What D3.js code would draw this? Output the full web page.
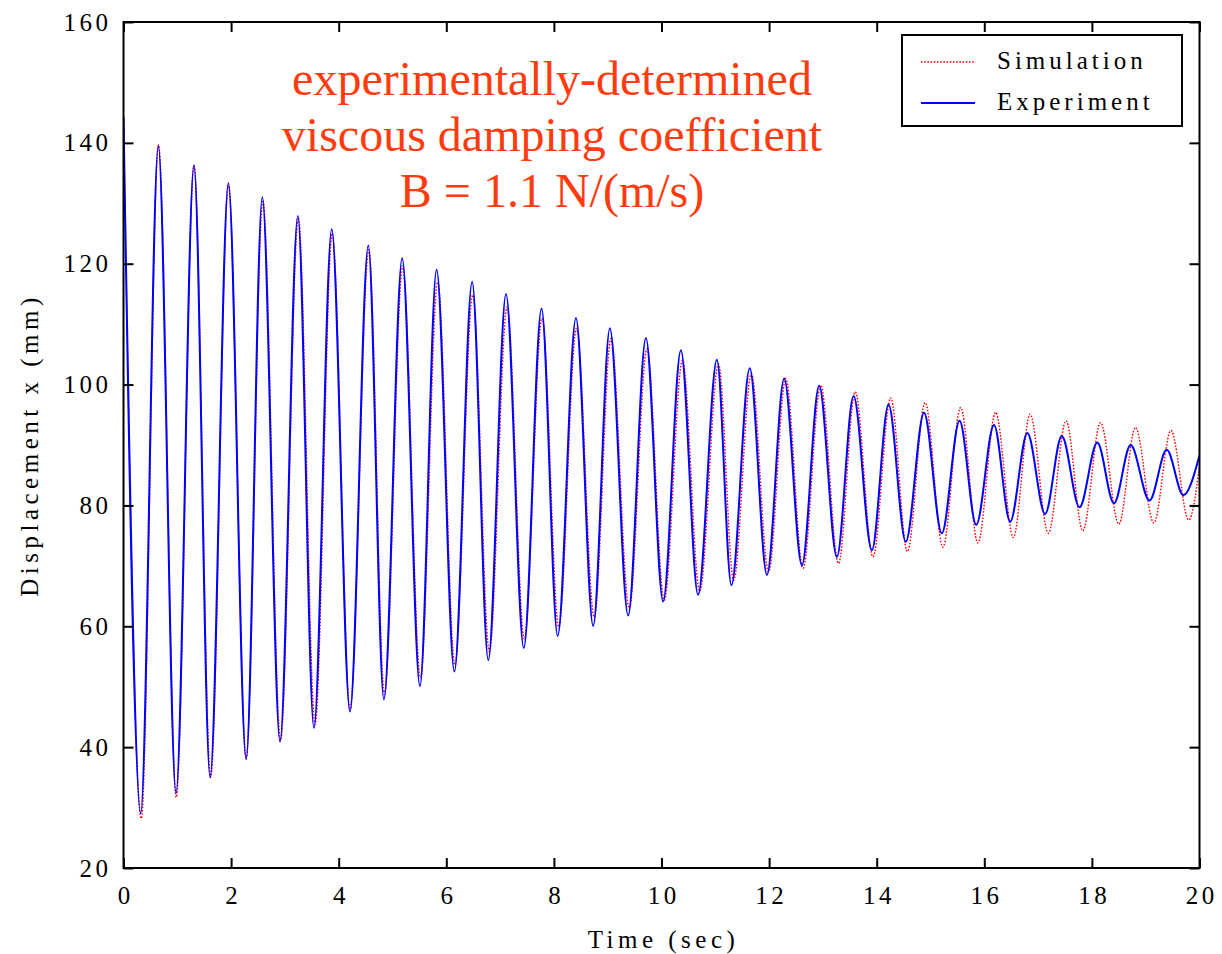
<!DOCTYPE html>
<html>
<head>
<meta charset="utf-8">
<script src="https://cdn.jsdelivr.net/npm/d3@7"></script>
<style>
    body { margin: 0; background: #fff; }
    svg text { font-family: "Liberation Serif", "Times New Roman", serif; }
</style>
</head>
<body>
<div id="chart"></div>
<script>
// extrema: time (sec) and displacement (mm)
const expTime = [0, 0.32, 0.647, 0.976, 1.31, 1.61, 1.95, 2.28, 2.58, 2.91, 3.24, 3.54, 3.87, 4.21, 4.55, 4.84,
    5.18, 5.51, 5.82, 6.15, 6.48, 6.78, 7.11, 7.44, 7.77, 8.07, 8.41, 8.73, 9.04, 9.38, 9.71,
    10.03, 10.36, 10.68, 11.03, 11.30, 11.64, 11.96, 12.28, 12.61, 12.93, 13.26, 13.57, 13.91, 14.22, 14.54, 14.88,
    15.21, 15.54, 15.85, 16.18, 16.48, 16.80, 17.13, 17.44, 17.77, 18.10, 18.41, 18.72, 19.07, 19.39, 19.70, 20];
const expDisp = [144.2, 29.05, 139.5, 32.4, 136.3, 35.0, 133.3, 38.0, 131.0, 40.9, 127.9, 43.2, 125.7, 45.9, 123.0, 47.9,
    120.9, 50.1, 119.0, 52.5, 117.0, 54.4, 115.0, 56.4, 112.6, 58.4, 111.0, 60.05, 109.3, 61.8, 107.7,
    64.1, 105.7, 65.2, 104.1, 66.8, 102.7, 68.5, 101.0, 70.1, 99.8, 71.5, 98.1, 72.6, 96.7, 74.0, 95.35,
    75.4, 94.0, 76.8, 93.3, 77.3, 92.0, 78.6, 91.5, 79.7, 90.4, 80.35, 90.0, 80.8, 89.2, 81.7, 88.3];

const simTime = [0, 0.33, 0.65, 0.98, 1.31, 1.62, 1.95, 2.28, 2.59, 2.92, 3.25, 3.56, 3.88, 4.21, 4.56, 4.85,
    5.19, 5.52, 5.84, 6.16, 6.49, 6.80, 7.13, 7.45, 7.78, 8.09, 8.42, 8.75, 9.06, 9.40, 9.73,
    10.05, 10.39, 10.71, 11.06, 11.34, 11.67, 11.99, 12.31, 12.63, 12.96, 13.29, 13.60, 13.93, 14.26, 14.57, 14.90,
    15.23, 15.56, 15.88, 16.21, 16.54, 16.85, 17.19, 17.52, 17.83, 18.16, 18.50, 18.81, 19.15, 19.47, 19.80, 20];
const simDisp = [144.5, 28.2, 139.7, 31.7, 136.2, 35.0, 133.0, 38.3, 130.5, 41.2, 127.6, 43.8, 125.0, 46.3, 122.3, 48.8,
    119.6, 51.5, 117.0, 53.6, 114.8, 55.8, 112.9, 57.9, 111.0, 59.9, 109.3, 61.5, 107.6, 63.0, 105.9,
    64.3, 104.0, 65.8, 103.4, 67.6, 101.8, 69.0, 101.0, 69.6, 99.9, 70.4, 98.8, 71.5, 97.8, 72.4, 97.0,
    73.1, 96.2, 73.8, 95.4, 74.7, 95.1, 75.4, 94.0, 75.8, 93.7, 76.9, 92.9, 77.1, 92.4, 77.6, 86.5];

const xTicks = [0, 2, 4, 6, 8, 10, 12, 14, 16, 18, 20];
const yTicks = [20, 40, 60, 80, 100, 120, 140, 160];
const titleLines = ["experimentally-determined", "viscous damping coefficient", "B = 1.1 N/(m/s)"];
const legendNames = ["Simulation", "Experiment"];

const width = 1222, height = 954;
const margin = {top: 22, right: 22.5, bottom: 86, left: 123.5};

const svg = d3.select("#chart").append("svg")
    .attr("width", width)
    .attr("height", height);

const x = d3.scaleLinear().domain([0, 20]).range([margin.left, width - margin.right]);
const y = d3.scaleLinear().domain([20, 160]).range([height - margin.bottom, margin.top]);

svg.append("clipPath").attr("id", "plotClip")
    .append("rect")
    .attr("x", x(0)).attr("y", y(160))
    .attr("width", x(20) - x(0)).attr("height", y(20) - y(160));

// series
const line = d3.line()
    .x(d => x(d[0]))
    .y(d => y(d[1]))
    .curve(d3.curveMonotoneX);

const plot = svg.append("g").attr("clip-path", "url(#plotClip)");
plot.append("path")
    .datum(simTime.map((t, i) => [t, simDisp[i]]))
    .attr("fill", "none")
    .attr("stroke", "#ff0000")
    .attr("stroke-width", 1.4)
    .attr("stroke-dasharray", "1.6,1.6")
    .attr("d", line);
plot.append("path")
    .datum(expTime.map((t, i) => [t, expDisp[i]]))
    .attr("fill", "none")
    .attr("stroke", "#0000ff")
    .attr("stroke-width", 2)
    .attr("stroke-linejoin", "round")
    .attr("d", line);

// axes, ticks pointing inward on all four sides
const tickStyle = g => {
    g.select(".domain").remove();
    g.selectAll(".tick line").attr("stroke", "#000").attr("stroke-width", 2);
    g.selectAll("text")
        .attr("fill", "#000")
        .style("font-size", "25px")
        .style("letter-spacing", "3.5px");
};

svg.append("g")
    .attr("transform", `translate(0,${y(20)})`)
    .call(d3.axisBottom(x).tickValues(xTicks).tickSize(-10).tickPadding(18).tickFormat(d3.format("d")))
    .call(tickStyle)
    .call(g => g.selectAll("text").attr("dx", "1.75px"));
svg.append("g")
    .attr("transform", `translate(0,${y(160)})`)
    .call(d3.axisTop(x).tickValues(xTicks).tickSize(-10).tickFormat(""))
    .call(tickStyle);
svg.append("g")
    .attr("transform", `translate(${x(0)},0)`)
    .call(d3.axisLeft(y).tickValues(yTicks).tickSize(-10).tickPadding(12).tickFormat(d3.format("d")))
    .call(tickStyle);
svg.append("g")
    .attr("transform", `translate(${x(20)},0)`)
    .call(d3.axisRight(y).tickValues(yTicks).tickSize(-10).tickFormat(""))
    .call(tickStyle);

// frame
svg.append("rect")
    .attr("x", x(0)).attr("y", y(160))
    .attr("width", x(20) - x(0)).attr("height", y(20) - y(160))
    .attr("fill", "none")
    .attr("stroke", "#000")
    .attr("stroke-width", 2);

// axis titles
svg.append("text")
    .attr("x", (x(0) + x(20)) / 2 + 2)
    .attr("y", 948)
    .attr("text-anchor", "middle")
    .style("font-size", "25px")
    .style("letter-spacing", "4.5px")
    .text("Time (sec)");
svg.append("text")
    .attr("transform", `translate(38,${(y(20) + y(160)) / 2}) rotate(-90)`)
    .attr("text-anchor", "middle")
    .style("font-size", "25px")
    .style("letter-spacing", "4.5px")
    .text("Displacement x (mm)");

// annotation
svg.append("g").selectAll("text")
    .data(titleLines)
    .enter()
    .append("text")
    .attr("x", 552)
    .attr("y", (d, i) => 95 + i * 56)
    .attr("text-anchor", "middle")
    .attr("fill", "#ff3c0f")
    .style("font-size", "48px")
    .text(d => d);

// legend
const legend = svg.append("g");
legend.append("rect")
    .attr("x", 902).attr("y", 35)
    .attr("width", 280).attr("height", 91)
    .attr("fill", "#fff")
    .attr("stroke", "#000")
    .attr("stroke-width", 2);
const legendStyles = [
    {stroke: "#ff0000", width: 1.4, dash: "1.6,1.6"},
    {stroke: "#0000ff", width: 2, dash: null}
];
legendNames.forEach((name, i) => {
    const ly = 62 + i * 41;
    legend.append("line")
        .attr("x1", 921).attr("x2", 975)
        .attr("y1", ly).attr("y2", ly)
        .attr("stroke", legendStyles[i].stroke)
        .attr("stroke-width", legendStyles[i].width)
        .attr("stroke-dasharray", legendStyles[i].dash);
    legend.append("text")
        .attr("x", 997)
        .attr("y", ly + 7)
        .style("font-size", "25px")
        .style("letter-spacing", "4px")
        .text(name);
});
</script>
</body>
</html>
